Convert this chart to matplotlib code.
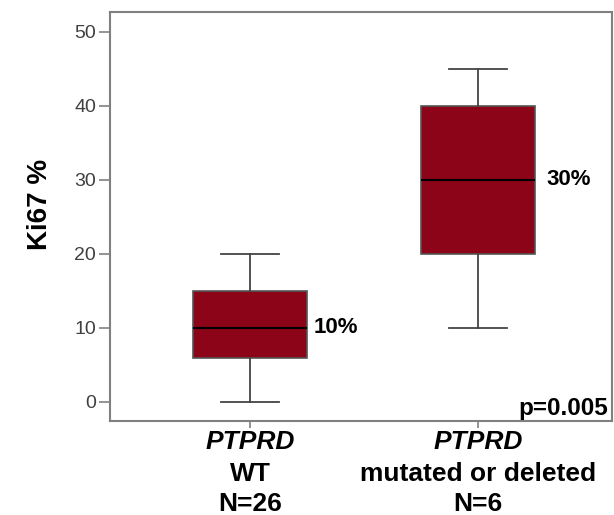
import matplotlib
matplotlib.use("Agg")
import matplotlib.pyplot as plt

plt.rcParams['font.family'] = ['Liberation Sans', 'DejaVu Sans']

groups = ["WT", "mutated or deleted"]
gene = ["PTPRD", "PTPRD"]
counts = ["N=26", "N=6"]
q1 = [6, 20]
med = [10, 30]
q3 = [15, 40]
lo = [0, 10]
hi = [20, 45]
med_labels = ["10%", "30%"]
p_text = "p=0.005"

stats = []
for i in range(2):
    stats.append(dict(med=med[i], q1=q1[i], q3=q3[i], whislo=lo[i], whishi=hi[i], fliers=[]))

fig = plt.figure(figsize=(6.14, 5.15), dpi=100, facecolor='white')
ax = fig.add_axes([110/614, 94/515, 502/614, 409/515])

pos = [1, 2]
ax.bxp(stats, positions=pos, widths=0.5, patch_artist=True,
       boxprops=dict(facecolor='#8b0418', edgecolor='#555555', linewidth=1.2),
       medianprops=dict(color='black', linewidth=1.5),
       whiskerprops=dict(color='#444444', linewidth=1.3),
       capprops=dict(color='#444444', linewidth=1.3),
       capwidths=0.255)

ax.set_xlim(0.386, 2.588)
ax.set_ylim(-2.57, 52.7)
ax.set_yticks([0, 10, 20, 30, 40, 50])
ax.tick_params(axis='y', labelsize=14, labelcolor='#404040', color='#808080', length=8, width=1.2, pad=2)
ax.tick_params(axis='x', color='#808080', length=5, width=1.2, labelbottom=False)
ax.set_xticks(pos)
for s in ax.spines.values():
    s.set_color('#808080')
    s.set_linewidth(1.5)

ax.set_ylabel("Ki67 %", fontsize=20, fontweight='bold', va='center')
ax.yaxis.set_label_coords(-0.139, 0.53)

for i, p in enumerate(pos):
    ax.text(p + 0.28 + 0.02 * i, med[i], med_labels[i], fontsize=16, fontweight='bold', va='center', ha='left')

ax.text(0.993, 0.003, p_text, transform=ax.transAxes, fontsize=17.5, fontweight='bold', ha='right', va='bottom')

trans = ax.get_xaxis_transform()
for i, p in enumerate(pos):
    ax.text(p, -0.051, gene[i], transform=trans, fontsize=19, fontweight='bold', style='italic', ha='center', va='center')
    ax.text(p, -0.130, groups[i], transform=trans, fontsize=19, fontweight='bold', ha='center', va='center')
    ax.text(p, -0.203, counts[i], transform=trans, fontsize=19, fontweight='bold', ha='center', va='center')

fig.savefig("out.png", dpi=100, facecolor='white')
